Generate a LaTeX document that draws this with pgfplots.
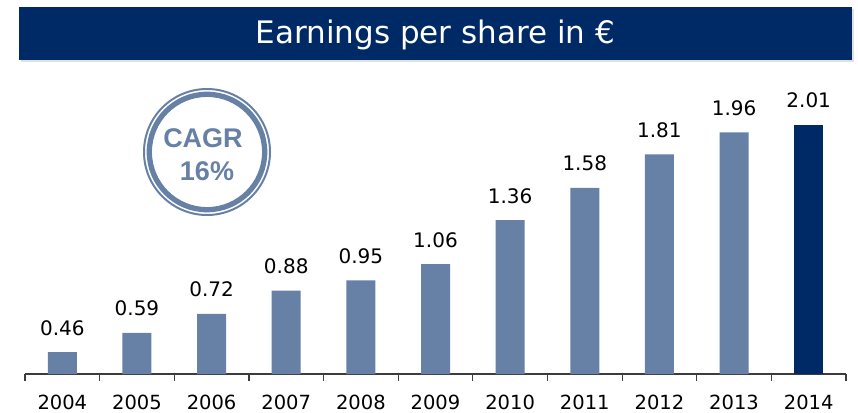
\documentclass[border=0pt]{standalone}
\usepackage{fontspec}
\setmainfont{DejaVu Sans}
\newfontfamily\cagrfont{Liberation Sans}
\usepackage{pgfplots}
\pgfplotsset{compat=1.18}
\definecolor{steel}{RGB}{102,128,166}
\definecolor{navy}{RGB}{0,42,102}
\definecolor{axisgray}{RGB}{60,60,60}

\begin{document}
\begin{tikzpicture}
\useasboundingbox (0pt,0pt) rectangle (858pt,-412pt);
% title banner
\fill[black!12] (21pt,-9pt) rectangle (854pt,-62pt);
\fill[navy] (19pt,-7pt) rectangle (852pt,-60pt);
\node[anchor=base, text=white, inner sep=0pt, font=\fontsize{31}{31}\selectfont] at (435.5pt,-44pt) {Earnings per share in €};

\begin{axis}[
  at={(25pt,-374pt)}, anchor=south west,
  scale only axis, width=821pt, height=291.5pt,
  xmin=-0.5, xmax=10.5, ymin=0.31, ymax=2.3,
  axis x line*=bottom, axis y line=none,
  x axis line style={-, draw=axisgray, line width=1.3pt},
  ybar, bar width=29pt, bar shift=0pt,
  xtick={0,...,10},
  xticklabels={2004,2005,2006,2007,2008,2009,2010,2011,2012,2013,2014},
  major tick length=0pt,
  minor xtick={-0.5,0.5,...,10.5}, minor tick length=7pt, tick align=outside,
  minor tick style={draw=axisgray, line width=1.2pt},
  ytick=\empty,
  xticklabel style={anchor=base, inner sep=0pt, yshift=-35pt, font=\fontsize{19.5}{19.5}\selectfont},
  nodes near coords,
  nodes near coords style={anchor=base, yshift=17pt, text=black, font=\fontsize{20}{20}\selectfont},
  /pgf/number format/.cd, fixed, fixed zerofill, precision=2, assume math mode=true,
]
\addplot[fill=steel, draw=none] coordinates {
  (0,0.46) (1,0.59) (2,0.72) (3,0.88) (4,0.95) (5,1.06)
  (6,1.36) (7,1.58) (8,1.81) (9,1.96)
};
\addplot[fill=navy, draw=none] coordinates {(10,2.01)};
\end{axis}

% CAGR badge
\draw[steel, line width=2pt] (207pt,-152pt) circle (63pt);
\draw[steel, line width=5.3pt] (207pt,-152pt) circle (57.7pt);
\node[anchor=base, text=steel, inner sep=0pt, font=\cagrfont\bfseries\fontsize{27}{27}\selectfont] at (203pt,-147pt) {CAGR};
\node[anchor=base, text=steel, inner sep=0pt, font=\cagrfont\bfseries\fontsize{27}{27}\selectfont] at (207pt,-180pt) {16\%};
\end{tikzpicture}
\end{document}
